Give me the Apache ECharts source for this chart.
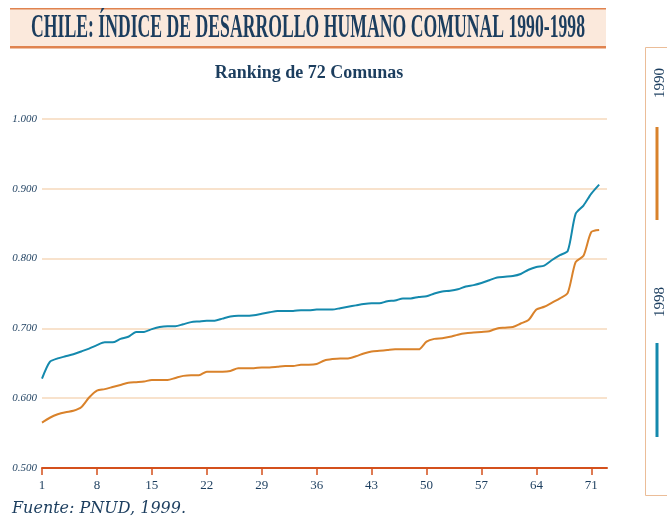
<!DOCTYPE html>
<html>
<head>
<meta charset="utf-8">
<script src="https://cdn.jsdelivr.net/npm/echarts@6/dist/echarts.min.js"></script>
<style>
  html, body { margin: 0; padding: 0; background: #fff; }
  #chart { width: 667px; height: 519px; }
</style>
</head>
<body>
<div id="chart"></div>
<script>
// ranking de comunas (eje x)
const ranks = [1, 2, 3, 4, 5, 6, 7, 8, 9, 10, 11, 12, 13, 14, 15, 16, 17, 18, 19, 20,
  21, 22, 23, 24, 25, 26, 27, 28, 29, 30, 31, 32, 33, 34, 35, 36, 37, 38, 39, 40,
  41, 42, 43, 44, 45, 46, 47, 48, 49, 50, 51, 52, 53, 54, 55, 56, 57, 58, 59, 60,
  61, 62, 63, 64, 65, 66, 67, 68, 69, 70, 71, 72];
const xTicks = [1, 8, 15, 22, 29, 36, 43, 50, 57, 64, 71];

// IDH 1990
const idh1990 = [0.565, 0.572, 0.577, 0.580, 0.582, 0.587, 0.601, 0.611, 0.613, 0.616,
  0.619, 0.622, 0.623, 0.624, 0.626, 0.626, 0.626, 0.629, 0.632, 0.633,
  0.633, 0.638, 0.638, 0.638, 0.639, 0.643, 0.643, 0.643, 0.644, 0.644,
  0.645, 0.646, 0.646, 0.648, 0.648, 0.649, 0.654, 0.656, 0.657, 0.657,
  0.660, 0.664, 0.667, 0.668, 0.669, 0.670, 0.670, 0.670, 0.670, 0.681,
  0.685, 0.686, 0.688, 0.691, 0.693, 0.694, 0.695, 0.696, 0.700, 0.701,
  0.702, 0.707, 0.712, 0.727, 0.731, 0.737, 0.743, 0.751, 0.795, 0.804,
  0.838, 0.841];

// IDH 1998
const idh1998 = [0.628, 0.652, 0.657, 0.660, 0.663, 0.667, 0.671, 0.676, 0.680, 0.680,
  0.685, 0.688, 0.695, 0.695, 0.699, 0.702, 0.703, 0.703, 0.706, 0.709,
  0.710, 0.711, 0.711, 0.714, 0.717, 0.718, 0.718, 0.719, 0.721, 0.723,
  0.725, 0.725, 0.725, 0.726, 0.726, 0.727, 0.727, 0.727, 0.729, 0.731,
  0.733, 0.735, 0.736, 0.736, 0.739, 0.740, 0.743, 0.743, 0.745, 0.746,
  0.750, 0.753, 0.754, 0.756, 0.760, 0.762, 0.765, 0.769, 0.773, 0.774,
  0.775, 0.778, 0.784, 0.788, 0.790, 0.798, 0.805, 0.811, 0.864, 0.876,
  0.893, 0.906];

const navy = '#1b3d5e';
const cOrange = '#d9822b';
const cBlue = '#1489ad';

let chart = echarts.init(document.getElementById('chart'));
chart.setOption({
  animation: false,
  grid: { left: 42, right: 60, top: 119, bottom: 51 },
  xAxis: {
    type: 'value',
    min: 1,
    max: 73,
    splitLine: { show: false },
    axisLine: { show: true, lineStyle: { color: '#d4501c', width: 2 } },
    axisTick: { show: true, customValues: xTicks, length: 7, inside: false,
      lineStyle: { color: '#d4501c', width: 1.5 } },
    axisLabel: { customValues: xTicks, color: navy, fontFamily: 'Liberation Serif',
      fontSize: 13, margin: 11 }
  },
  yAxis: {
    type: 'value',
    min: 0.5,
    max: 1.0,
    interval: 0.1,
    axisLine: { show: false },
    axisTick: { show: false },
    // lineas de fondo
    splitLine: { lineStyle: { color: '#f6d8bb', width: 1.5 } },
    axisLabel: {
      formatter: v => v.toFixed(3),
      color: navy, fontFamily: 'Liberation Serif', fontStyle: 'italic',
      fontSize: 11, margin: 5
    }
  },
  series: [
    {
      name: '1990', type: 'line', showSymbol: false, smooth: 0.25,
      lineStyle: { color: cOrange, width: 2 },
      data: idh1990.map((v, i) => [ranks[i], v])
    },
    {
      name: '1998', type: 'line', showSymbol: false, smooth: 0.25,
      lineStyle: { color: cBlue, width: 2 },
      data: idh1998.map((v, i) => [ranks[i], v])
    }
  ],
  graphic: [
    // caja del titulo
    { type: 'rect', left: 10, top: 8, shape: { width: 596, height: 40 },
      style: { fill: '#fbe9dc' } },
    { type: 'rect', left: 10, top: 8, shape: { width: 596, height: 1.5 },
      style: { fill: '#e0834f' } },
    { type: 'rect', left: 10, top: 46, shape: { width: 596, height: 2.5 },
      style: { fill: '#e0834f' } },
    { type: 'text', x: 31, y: 28, scaleX: 0.52,
      style: { text: 'CHILE: ÍNDICE DE DESARROLLO HUMANO COMUNAL 1990-1998',
        fill: navy, font: 'bold 34px "Liberation Serif"', textVerticalAlign: 'middle' } },
    { type: 'text', x: 309, y: 73,
      style: { text: 'Ranking de 72 Comunas', fill: navy, font: 'bold 18px "Liberation Serif"',
        textAlign: 'center', textVerticalAlign: 'middle' } },
    // leyenda
    { type: 'rect', left: 643, top: 45, shape: { width: 40, height: 448 },
      style: { fill: 'none', stroke: '#ebbd98', lineWidth: 1 } },
    { type: 'text', x: 660, y: 83, rotation: Math.PI / 2,
      style: { text: '1990', fill: navy, font: '15px "Liberation Serif"',
        textAlign: 'center', textVerticalAlign: 'middle' } },
    { type: 'line', shape: { x1: 657, y1: 127, x2: 657, y2: 220 },
      style: { stroke: cOrange, lineWidth: 3 } },
    { type: 'text', x: 660, y: 302, rotation: Math.PI / 2,
      style: { text: '1998', fill: navy, font: '15px "Liberation Serif"',
        textAlign: 'center', textVerticalAlign: 'middle' } },
    { type: 'line', shape: { x1: 657, y1: 343, x2: 657, y2: 437 },
      style: { stroke: cBlue, lineWidth: 3 } },
    // fuente
    { type: 'text', x: 12, y: 509,
      style: { text: 'Fuente: PNUD, 1999.', fill: navy, font: 'italic 16px "DejaVu Serif"',
        textVerticalAlign: 'middle' } }
  ]
});
</script>
</body>
</html>
